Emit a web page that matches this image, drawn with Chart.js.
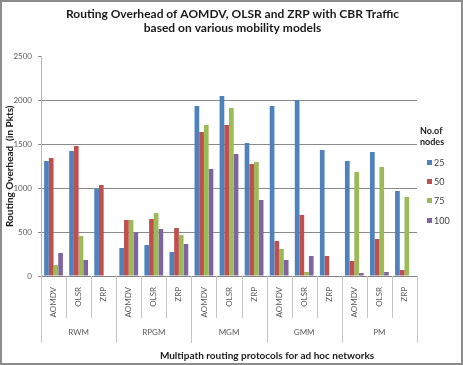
<!DOCTYPE html>
<html>
<head>
<meta charset="utf-8">
<script src="https://cdn.jsdelivr.net/npm/chart.js@4.4.1/dist/chart.umd.min.js"></script>
<style>
  html, body { margin: 0; padding: 0; background: #fff; }
  canvas { display: block; }
</style>
</head>
<body>
<canvas id="chart" width="463" height="365"></canvas>
<script>
// mobility models (outer axis level) and protocols (inner level)
const models = ['RWM', 'RPGM', 'MGM', 'GMM', 'PM'];
const protocolNames = ['AOMDV', 'OLSR', 'ZRP'];
const nodeCounts = ['25', '50', '75', '100'];

// routing overhead (pkts), order: RWM AOMDV, RWM OLSR, RWM ZRP, RPGM ..., PM ZRP
const nodes25  = [1309, 1423, 994,  319, 353, 273,  1935, 2049, 1514,  1935, 2004, 1435,  1309, 1412, 968];
const nodes50  = [1343, 1480, 1036, 638, 649, 546,  1640, 1719, 1275,  398, 694, 228,     171, 421, 68];
const nodes75  = [125, 455, 0,      638, 717, 467,  1719, 1913, 1298,  307, 46, 0,        1184, 1241, 899];
const nodes100 = [262, 182, 0,      497, 535, 364,  1218, 1389, 865,   182, 228, 0,       34, 46, 0];

const yTicks = [0, 500, 1000, 1500, 2000, 2500];
const colors = ['#4F81BD', '#C0504D', '#9BBB59', '#8064A2'];

const labels = [];
models.forEach(() => protocolNames.forEach(p => labels.push(p)));

const series = [nodes25, nodes50, nodes75, nodes100];

const FONT = 'Lato, "Open Sans", sans-serif';

const decor = {
    id: 'decor',
    beforeDraw(chart) {
        const ctx = chart.ctx;
        ctx.save();
        ctx.fillStyle = '#fff';
        ctx.fillRect(0, 0, chart.width, chart.height);
        ctx.restore();
    },
    afterDraw(chart) {
        const {ctx, chartArea} = chart;
        const x = chart.scales.x;
        const half = (x.getPixelForValue(1) - x.getPixelForValue(0)) / 2;
        const n = labels.length;
        ctx.save();

        // category separators below the axis
        ctx.strokeStyle = '#c4c4c4';
        ctx.lineWidth = 1;
        for (let i = 0; i <= n; i++) {
            const px = i < n ? x.getPixelForValue(i) - half : x.getPixelForValue(n - 1) + half;
            const long = i % protocolNames.length === 0;
            const xx = Math.round(px) + 0.5;
            ctx.beginPath();
            ctx.moveTo(xx, chartArea.bottom);
            ctx.lineTo(xx, chartArea.bottom + (long ? 67 : 42));
            ctx.stroke();
        }

        // outer level labels
        ctx.fillStyle = '#595959';
        ctx.font = '8px ' + FONT;
        ctx.textAlign = 'center';
        ctx.textBaseline = 'middle';
        models.forEach((m, g) => {
            const c = (x.getPixelForValue(g * 3) + x.getPixelForValue(g * 3 + 2)) / 2;
            ctx.fillText(m, c, chartArea.bottom + 56);
        });

        // x axis title
        ctx.fillStyle = '#1a1a1a';
        ctx.font = 'bold 10px ' + FONT;
        ctx.fillText('Multipath routing protocols for ad hoc networks',
            (chartArea.left + chartArea.right) / 2 + 38, chartArea.bottom + 80);

        // legend
        ctx.textAlign = 'left';
        ctx.font = 'bold 9px ' + FONT;
        ctx.fillText('No.of', 420, 131);
        ctx.fillText('nodes', 420, 142);
        ctx.font = '9px ' + FONT;
        chart.data.datasets.forEach((ds, i) => {
            const y = 162 + i * 19.2;
            ctx.fillStyle = ds.backgroundColor;
            ctx.fillRect(427, Math.round(y) - 2, 5, 5);
            ctx.fillStyle = '#404040';
            ctx.fillText(ds.label, 434, y + 1);
        });

        // frame
        ctx.strokeStyle = '#8c8c8c';
        ctx.lineWidth = 2;
        ctx.strokeRect(1, 1, chart.width - 2, chart.height - 2);
        ctx.restore();
    }
};

const ctx = document.getElementById('chart').getContext('2d');
new Chart(ctx, {
    type: 'bar',
    data: {
        labels: labels,
        datasets: series.map((vals, i) => ({
            label: nodeCounts[i],
            data: vals,
            backgroundColor: colors[i],
            borderWidth: 0,
            categoryPercentage: 0.75,
            barPercentage: 1.0
        }))
    },
    options: {
        responsive: false,
        animation: false,
        devicePixelRatio: 1,
        layout: { padding: { left: 2, right: 0, top: 0, bottom: 0 } },
        plugins: {
            legend: { display: false },
            tooltip: { enabled: false },
            title: {
                display: true,
                text: ['Routing Overhead of AOMDV, OLSR and ZRP with CBR Traffic',
                       'based on various mobility models'],
                color: '#1a1a1a',
                font: { family: FONT, size: 12, weight: 'bold', lineHeight: 1.1 },
                padding: { top: 8, bottom: 22 }
            }
        },
        scales: {
            x: {
                grid: { display: false },
                border: { display: true, color: '#868686' },
                ticks: {
                    color: '#595959',
                    font: { family: FONT, size: 8 },
                    minRotation: 90,
                    maxRotation: 90,
                    autoSkip: false,
                    padding: 3
                },
                afterFit(scale) { scale.height = 89; }
            },
            y: {
                min: 0,
                max: 2500,
                afterBuildTicks(scale) { scale.ticks = yTicks.map(v => ({value: v})); },
                grid: {
                    color: c => (c.tick && c.tick.value === 2500) ? 'rgba(0,0,0,0)' : '#8a8a8a',
                    tickLength: 3,
                    tickColor: '#8a8a8a'
                },
                border: { display: true, color: '#b5b5b5' },
                ticks: {
                    color: '#595959',
                    font: { family: FONT, size: 8 },
                    padding: 6,
                    callback: v => String(v)
                },
                title: {
                    display: true,
                    text: 'Routing Overhead  (in Pkts)',
                    color: '#1a1a1a',
                    font: { family: FONT, size: 10, weight: 'bold' },
                    padding: { top: 2, bottom: 0 }
                },
                afterFit(scale) { scale.width = 39; }
            },
            yr: {
                position: 'right',
                display: true,
                grid: { display: false },
                border: { display: false },
                ticks: { display: false },
                afterFit(scale) { scale.width = 46; }
            }
        }
    },
    plugins: [decor]
});
</script>
</body>
</html>
